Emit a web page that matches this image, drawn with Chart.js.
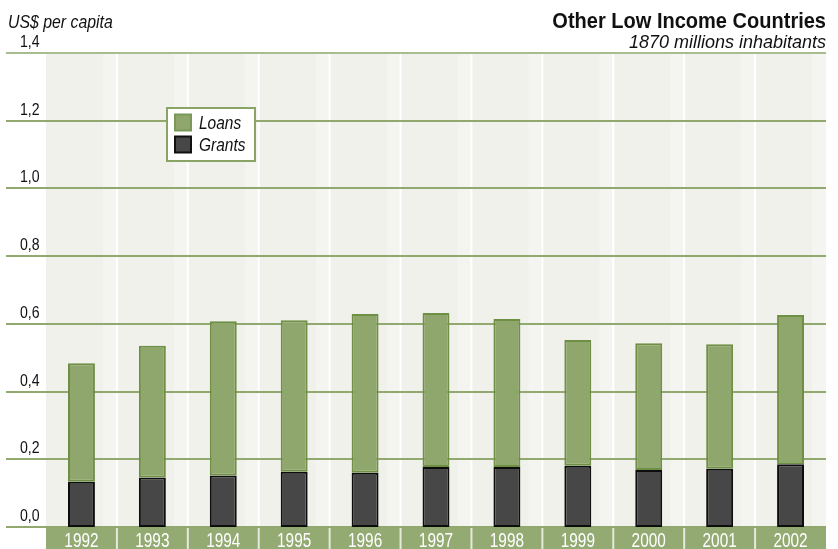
<!DOCTYPE html>
<html>
<head>
<meta charset="utf-8">
<script src="https://cdn.jsdelivr.net/npm/chart.js@4"></script>
<style>
  html, body { margin: 0; padding: 0; background: #ffffff; }
  #wrap { width: 838px; height: 549px; position: relative; }
</style>
</head>
<body>
<div id="wrap"><canvas id="chart" width="838" height="549"></canvas></div>
<script>
"use strict";

const years = ["1992", "1993", "1994", "1995", "1996", "1997", "1998", "1999", "2000", "2001", "2002"];
const grants = [0.134, 0.146, 0.152, 0.163, 0.160, 0.177, 0.177, 0.181, 0.168, 0.172, 0.185];
const loans = [0.350, 0.389, 0.456, 0.448, 0.469, 0.455, 0.437, 0.371, 0.375, 0.368, 0.441];
const yTicks = [0, 0.2, 0.4, 0.6, 0.8, 1.0, 1.2, 1.4];

const FONT = '"Liberation Sans", Arial, sans-serif';

// condensed text: Liberation Sans squeezed horizontally
function narrowText(ctx, text, x, y, align, font, squeeze) {
  ctx.save();
  ctx.font = font;
  ctx.textAlign = align;
  ctx.translate(x, y);
  ctx.scale(squeeze, 1);
  ctx.fillText(text, 0, 0);
  ctx.restore();
}

const backdrop = {
  id: "backdrop",
  beforeDatasetsDraw(chart) {
    const ctx = chart.ctx;
    const area = chart.chartArea;
    const x = chart.scales.x;
    const y = chart.scales.y;
    const step = (area.right - area.left) / years.length;
    ctx.save();

    // plot background, one cell per year
    for (let i = 0; i < years.length; i++) {
      const left = area.left + i * step;
      ctx.fillStyle = "#eff1ea";
      ctx.fillRect(left, area.top, step, area.bottom - area.top);
      ctx.fillStyle = "#f4f5f0";
      ctx.fillRect(left + step - 14, area.top, 14, area.bottom - area.top);
      if (i > 0) {
        ctx.fillStyle = "#ffffff";
        ctx.fillRect(left - 1, area.top, 2, area.bottom - area.top);
      }
    }

    // horizontal grid and y labels
    ctx.textBaseline = "alphabetic";
    yTicks.forEach(function (v, i) {
      const py = Math.round(y.getPixelForValue(v));
      ctx.fillStyle = i === yTicks.length - 1 ? "#a9bc8f" : "#91a96f";
      ctx.fillRect(6, py - 1, area.right - 6, 2);
      ctx.fillStyle = "#111111";
      narrowText(ctx, v.toFixed(1).replace(".", ","), 20, py - 6, "left", "17px " + FONT, 0.83);
    });

    // x label band
    ctx.fillStyle = "#94aa73";
    ctx.fillRect(area.left, area.bottom + 1, area.right - area.left, chart.height - area.bottom - 1);
    for (let i = 0; i < years.length; i++) {
      if (i > 0) {
        ctx.fillStyle = "#e4eadc";
        ctx.fillRect(area.left + i * step - 1, area.bottom + 1, 2, chart.height - area.bottom - 1);
      }
      ctx.fillStyle = "#ffffff";
      narrowText(ctx, years[i], x.getPixelForValue(i), area.bottom + 20, "center", "20px " + FONT, 0.77);
    }
    ctx.restore();
  },
  afterDraw(chart) {
    const ctx = chart.ctx;
    ctx.save();
    ctx.textBaseline = "alphabetic";

    // titles
    ctx.fillStyle = "#111111";
    narrowText(ctx, "US$ per capita", 8, 28, "left", "italic 18px " + FONT, 0.88);
    narrowText(ctx, "Other Low Income Countries", 826, 28, "right", "bold 22px " + FONT, 0.91);
    narrowText(ctx, "1870 millions inhabitants", 826, 48, "right", "italic 18px " + FONT, 1.0);

    // legend box
    ctx.fillStyle = "#ffffff";
    ctx.fillRect(167, 108, 88, 53);
    ctx.strokeStyle = "#8aa466";
    ctx.lineWidth = 2;
    ctx.strokeRect(167, 108, 88, 53);
    const items = [
      { label: "Loans", fill: "#8fa76c", border: "#7a9857", y: 122.5, base: 129 },
      { label: "Grants", fill: "#474747", border: "#111111", y: 144.5, base: 151 }
    ];
    items.forEach(function (it) {
      ctx.fillStyle = it.fill;
      ctx.fillRect(175, it.y - 8, 16, 16);
      ctx.strokeStyle = it.border;
      ctx.lineWidth = 2;
      ctx.strokeRect(175, it.y - 8, 16, 16);
      ctx.fillStyle = "#111111";
      narrowText(ctx, it.label, 199, it.base, "left", "italic 18px " + FONT, 0.86);
    });
    ctx.restore();
  }
};

new Chart(document.getElementById("chart"), {
  type: "bar",
  data: {
    labels: years,
    datasets: [
      {
        label: "Grants",
        data: grants,
        backgroundColor: "#474747",
        borderColor: "#0d0d0d",
        borderWidth: 2,
        borderSkipped: false,
        barPercentage: 0.38,
        categoryPercentage: 1.0
      },
      {
        label: "Loans",
        data: loans,
        backgroundColor: "#8fa76c",
        borderColor: "#6f8f45",
        borderWidth: 2,
        borderSkipped: false,
        barPercentage: 0.38,
        categoryPercentage: 1.0
      }
    ]
  },
  options: {
    responsive: false,
    animation: false,
    devicePixelRatio: 1,
    layout: { padding: { left: 46, right: 12, top: 53, bottom: 22 } },
    plugins: {
      legend: { display: false },
      tooltip: { enabled: false }
    },
    scales: {
      x: { display: false, stacked: true },
      y: { display: false, stacked: true, min: 0, max: 1.4 }
    }
  },
  plugins: [backdrop]
});
</script>
</body>
</html>
